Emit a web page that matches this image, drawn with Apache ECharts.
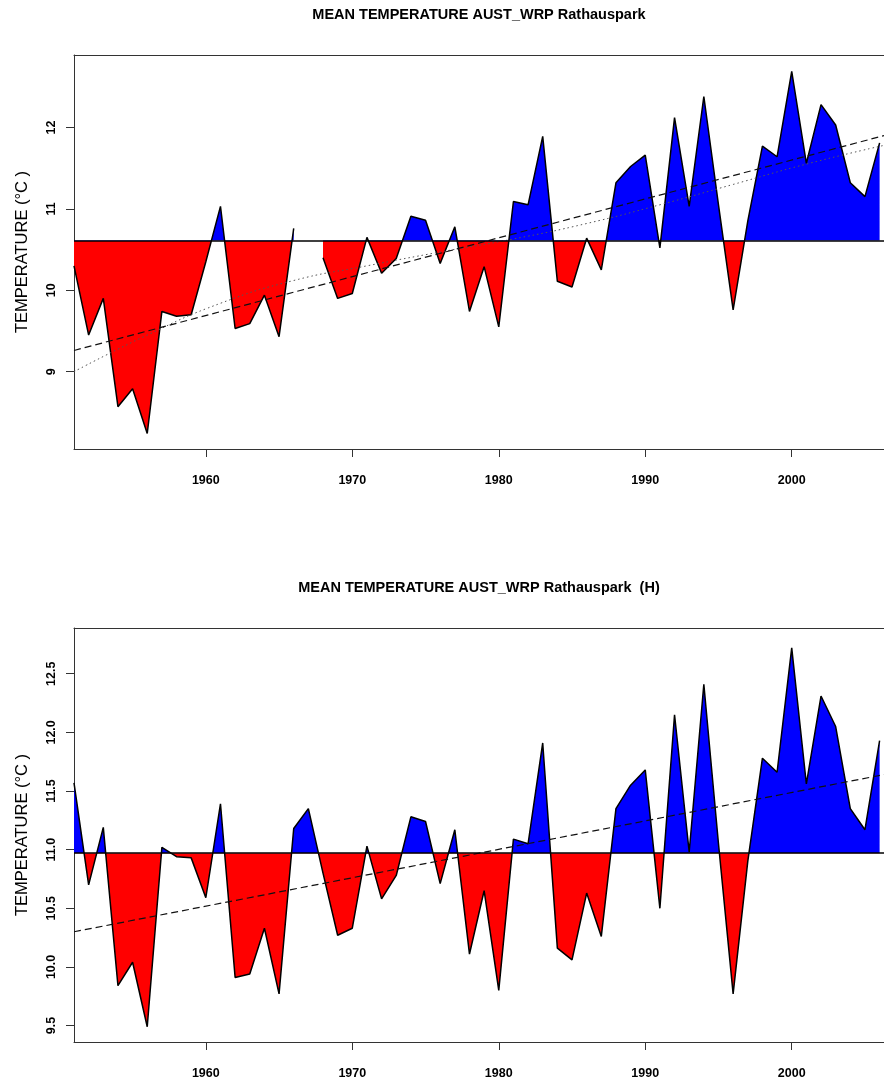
<!DOCTYPE html>
<html><head><meta charset="utf-8">
<script src="https://cdn.jsdelivr.net/npm/echarts@6/dist/echarts.min.js"></script>
<style>html,body{margin:0;padding:0;background:#fff}#c{width:884px;height:1086px}</style>
</head><body><div id="c"></div>
<script>
// ---- data ----
const years = [1951,1952,1953,1954,1955,1956,1957,1958,1959,1960,
               1961,1962,1963,1964,1965,1966,1967,1968,1969,1970,
               1971,1972,1973,1974,1975,1976,1977,1978,1979,1980,
               1981,1982,1983,1984,1985,1986,1987,1988,1989,1990,
               1991,1992,1993,1994,1995,1996,1997,1998,1999,2000,
               2001,2002,2003,2004,2005,2006];
// original (raw) series, with a gap in 1967
const rawTemp = [10.30,9.45,9.90,8.57,8.79,8.24,9.74,9.68,9.70,10.35,
                 11.03,9.53,9.59,9.94,9.43,10.76,null,10.40,9.90,9.96,
                 10.65,10.21,10.39,10.91,10.86,10.33,10.78,9.74,10.29,9.55,
                 11.09,11.05,11.89,10.11,10.04,10.64,10.25,11.32,11.52,11.66,
                 10.52,12.12,11.03,12.38,11.05,9.76,10.85,11.77,11.64,12.69,
                 11.56,12.28,12.03,11.32,11.15,11.81];
// homogenised series (H)
const homTemp = [11.57,10.70,11.19,9.84,10.04,9.49,11.02,10.94,10.93,10.59,
                 11.39,9.91,9.94,10.33,9.77,11.18,11.35,10.80,10.27,10.33,
                 11.03,10.58,10.78,11.28,11.24,10.71,11.17,10.11,10.65,9.80,
                 11.09,11.05,11.91,10.16,10.06,10.63,10.26,11.35,11.55,11.68,
                 10.50,12.15,10.98,12.41,11.05,9.77,10.90,11.78,11.66,12.72,
                 11.56,12.31,12.05,11.35,11.17,11.93];
const rawMean = 10.61;
const homMean = 10.97;
const trendYears = [1951, 2006.3];
const rawTrend = [9.26, 11.90];
const homTrend = [10.30, 11.64];
const smoothYears = [1951,1956,1961,1966,1971,1976,1981,1986,1991,1996,2001,2006.3];
const rawSmooth = [9.00,9.45,9.84,10.12,10.30,10.47,10.63,10.82,11.05,11.30,11.55,11.78];
const xTicks = [1960,1970,1980,1990,2000];
const rawYTicks = [9,10,11,12];
const homYTicks = [9.5,10,10.5,11,11.5,12,12.5];
const titles = ['MEAN TEMPERATURE AUST_WRP Rathauspark', 'MEAN TEMPERATURE AUST_WRP Rathauspark  (H)'];
const yName = 'TEMPERATURE (°C )';

// ---- chart ----
const FONT = "'Liberation Sans', Arial, sans-serif";
const RED = '#ff0000', BLUE = '#0000ff';
const BOX = {show: true, onZero: false, lineStyle: {color: '#333', width: 1}};
const pairs = (xs, vs) => xs.map((x, i) => [x, vs[i]]);

const panels = [
  {top: 55, height: 394, min: 8.05, max: 12.89, vals: rawTemp, mean: rawMean, trend: rawTrend,
   yTicks: rawYTicks, fmt: v => String(v), title: titles[0], titleTop: 7, smooth: rawSmooth},
  {top: 628, height: 414, min: 9.36, max: 12.89, vals: homTemp, mean: homMean, trend: homTrend,
   yTicks: homYTicks, fmt: v => v.toFixed(1), title: titles[1], titleTop: 580, smooth: null}
];
const X_MIN = 1951, X_MAX = 2006.3;

const option = {
  animation: false,
  backgroundColor: '#fff',
  title: [], grid: [], xAxis: [], yAxis: [], series: [], visualMap: []
};

panels.forEach((p, i) => {
  option.title.push({
    text: p.title, left: 479, top: p.titleTop, textAlign: 'center', padding: 0,
    textStyle: {fontFamily: FONT, fontSize: 14.5, fontWeight: 'bold', color: '#000'}
  });
  option.grid.push({left: 74, right: 0, top: p.top, height: p.height, show: false});
  option.xAxis.push({
    type: 'value', gridIndex: i, min: X_MIN, max: X_MAX, position: 'bottom',
    splitLine: {show: false}, axisLine: BOX,
    axisTick: {show: true, length: 8, customValues: xTicks, lineStyle: {color: '#333', width: 1}},
    axisLabel: {customValues: xTicks, margin: 25, formatter: v => String(v),
      fontSize: 12.5, fontWeight: 'bold', color: '#000', fontFamily: FONT}
  });
  option.yAxis.push({
    type: 'value', gridIndex: i, min: p.min, max: p.max, position: 'left',
    splitLine: {show: false}, axisLine: BOX,
    axisTick: {show: true, length: 8, customValues: p.yTicks, lineStyle: {color: '#333', width: 1}},
    axisLabel: {customValues: p.yTicks, rotate: 90, margin: 16, formatter: p.fmt,
      fontSize: 12.5, fontWeight: 'bold', color: '#000', fontFamily: FONT},
    name: yName, nameLocation: 'middle', nameRotate: 90, nameGap: 43,
    nameTextStyle: {fontSize: 16.5, fontFamily: FONT, color: '#000'}
  });
  const data = pairs(years, p.vals);
  const areaIdx = option.series.length;
  option.series.push({
    type: 'line', xAxisIndex: i, yAxisIndex: i, data: data, showSymbol: false, symbol: 'none',
    connectNulls: false, lineStyle: {width: 0, opacity: 0},
    areaStyle: {origin: p.mean, opacity: 1}, silent: true, z: 2
  });
  option.visualMap.push({
    type: 'piecewise', show: false, seriesIndex: areaIdx, dimension: 1,
    pieces: [{gte: 0, lt: p.mean, color: RED}, {gte: p.mean, lt: 50, color: BLUE}],
    outOfRange: {color: '#999'}
  });
  option.series.push({
    type: 'line', xAxisIndex: i, yAxisIndex: i, data: data, showSymbol: false, symbol: 'none',
    connectNulls: false, lineStyle: {color: '#000', width: 1.5}, silent: true, z: 3,
    markLine: {silent: true, symbol: 'none', label: {show: false},
      lineStyle: {color: '#000', type: 'solid', width: 1.5},
      data: [{yAxis: p.mean}]}
  });
  if (p.smooth) {
    option.series.push({
      type: 'line', xAxisIndex: i, yAxisIndex: i, data: pairs(smoothYears, p.smooth), smooth: true,
      showSymbol: false, symbol: 'none', lineStyle: {color: '#555', width: 1, type: [1.5, 3]}, silent: true, z: 4
    });
  }
  option.series.push({
    type: 'line', xAxisIndex: i, yAxisIndex: i, data: pairs(trendYears, p.trend),
    showSymbol: false, symbol: 'none', lineStyle: {color: '#111', width: 1.2, type: [7, 4]}, silent: true, z: 4
  });
});
// top edge of each plot box (no right edge: the picture is cut there)
panels.forEach((p, i) => {
  option.xAxis.push({
    type: 'value', gridIndex: i, min: X_MIN, max: X_MAX, position: 'top',
    splitLine: {show: false}, axisLine: BOX, axisTick: {show: false}, axisLabel: {show: false}
  });
});

const chart = echarts.init(document.getElementById('c'), null, {renderer: 'canvas'});
chart.setOption(option);
</script>
</body></html>
